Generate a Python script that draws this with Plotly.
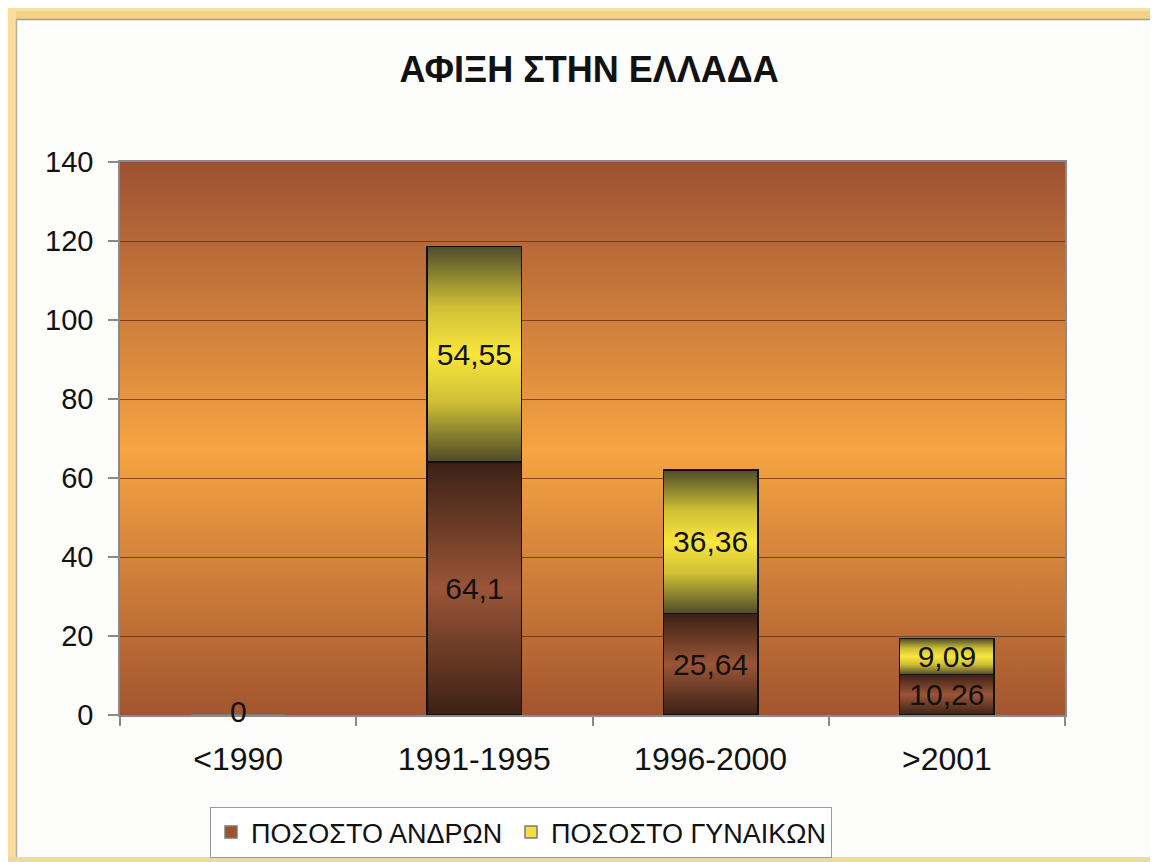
import base64
import plotly.graph_objects as go

# ---------------- data ----------------
categories = ["<1990", "1991-1995", "1996-2000", ">2001"]
men_pct = [0, 64.1, 25.64, 10.26]
women_pct = [0, 54.55, 36.36, 9.09]
series_names = ["ΠΟΣΟΣΤΟ ΑΝΔΡΩΝ", "ΠΟΣΟΣΤΟ ΓΥΝΑΙΚΩΝ"]
title_text = "ΑΦΙΞΗ ΣΤΗΝ ΕΛΛΑΔΑ"
y_ticks = [0, 20, 40, 60, 80, 100, 120, 140]

# ---------------- style ----------------
FONT = "Liberation Sans, Arial, sans-serif"
BAR_W = 0.4
OFF = 8                      # page body margin
W, H = 1158 - OFF, 862 - OFF
ML, MT = 120 - OFF, 162 - OFF
PW, PH = 945, 553
MR = W - ML - PW
MB = H - MT - PH

men_swatch = "#A0522D"
women_swatch = "#F0E040"
men_scale = [[0, "#3C2116"], [0.5, "#9A5536"], [1, "#3C2116"]]
women_scale = [[0, "#4E4B2A"], [0.28, "#CFC036"], [0.5, "#F8E63C"],
               [0.72, "#CFC036"], [1, "#4E4B2A"]]


def fmt(v):
    return f"{v:g}".replace(".", ",")


def pxx(px):
    """page x pixel -> paper x"""
    return (px - OFF - ML) / PW


def pxy(py):
    """page y pixel -> paper y"""
    return (MT + PH - (py - OFF)) / PH


fig = go.Figure()

# gradient fills of the stacked segments (drawn under the bar outlines)
xs = list(range(len(categories)))
for vals, bases, scale in [
    (men_pct, [0] * len(men_pct), men_scale),
    (women_pct, men_pct, women_scale),
]:
    for i, (v, b) in enumerate(zip(vals, bases)):
        if v <= 0:
            continue
        x0, x1 = xs[i] - BAR_W / 2, xs[i] + BAR_W / 2
        fig.add_trace(go.Scatter(
            x=[x0, x1, x1, x0, x0], y=[b, b, b + v, b + v, b],
            mode="lines", line=dict(width=0), fill="toself",
            fillgradient=dict(type="vertical", colorscale=scale,
                              start=b, stop=b + v),
            hoverinfo="skip", showlegend=False, xaxis="x", yaxis="y",
        ))

# bars (outline + labels) on an overlaying x axis so they sit above the fills
men_colors = [men_swatch] + ["rgba(0,0,0,0)"] * (len(men_pct) - 1)
women_colors = [women_swatch] + ["rgba(0,0,0,0)"] * (len(women_pct) - 1)
men_lines = ["#7A7A7A" if v == 0 else "#111111" for v in men_pct]
women_lines = ["#7A7A7A" if v == 0 else "#111111" for v in women_pct]
men_text = [fmt(v) if v else "" for v in men_pct]
women_text = [fmt(v) if v else "" for v in women_pct]

for vals, name, cols, lcols, txt, lw in [
    (men_pct, series_names[0], men_colors, men_lines, men_text, 255),
    (women_pct, series_names[1], women_colors, women_lines, women_text, None),
]:
    fig.add_trace(go.Bar(
        x=xs, y=vals, width=BAR_W, name=name, legendwidth=lw,
        marker=dict(color=cols, line=dict(color=lcols, width=1.5)),
        text=txt, textposition="inside", insidetextanchor="middle",
        textangle=0, constraintext="none",
        textfont=dict(family=FONT, size=30, color="#111111"),
        xaxis="x2", yaxis="y",
    ))

# label for categories whose stacked total is zero
annotations = []
for i, (m, w) in enumerate(zip(men_pct, women_pct)):
    if m + w == 0:
        annotations.append(dict(
            x=xs[i], y=m + w, xref="x2", yref="y", text=fmt(m + w),
            showarrow=False, yanchor="middle", yshift=4,
            font=dict(family=FONT, size=30, color="#111111")))

# plot-area background gradient (decorative)
svg = ('<svg xmlns="http://www.w3.org/2000/svg" width="100" height="100" '
       'preserveAspectRatio="none"><defs><linearGradient id="g" x1="0" y1="0" '
       'x2="0" y2="1"><stop offset="0" stop-color="#9D5132"/>'
       '<stop offset="0.52" stop-color="#F7A443"/>'
       '<stop offset="1" stop-color="#A2552F"/></linearGradient></defs>'
       '<rect width="100" height="100" fill="url(#g)"/></svg>')
src = "data:image/svg+xml;base64," + base64.b64encode(svg.encode()).decode()

shapes = [
    # outer frame bands
    dict(type="rect", xref="paper", yref="paper", x0=pxx(0), x1=pxx(1200),
         y0=pxy(0), y1=pxy(11), fillcolor="#F9E2A8", line_width=0),
    dict(type="rect", xref="paper", yref="paper", x0=pxx(0), x1=pxx(1200),
         y0=pxy(11), y1=pxy(19), fillcolor="#F5D283", line_width=0),
    dict(type="rect", xref="paper", yref="paper", x0=pxx(0), x1=pxx(16),
         y0=pxy(0), y1=pxy(900), fillcolor="#F8DE9A", line_width=0),
    dict(type="rect", xref="paper", yref="paper", x0=pxx(0), x1=pxx(1200),
         y0=pxy(857), y1=pxy(900), fillcolor="#EFD9A2", line_width=0),
    dict(type="line", xref="paper", yref="paper", x0=pxx(16), x1=pxx(1200),
         y0=pxy(19.5), y1=pxy(19.5), line=dict(color="#A69C8A", width=1.5)),
    dict(type="line", xref="paper", yref="paper", x0=pxx(16.5), x1=pxx(16.5),
         y0=pxy(19), y1=pxy(857), line=dict(color="#B8AE9A", width=1.5)),
]

fig.update_layout(
    width=W, height=H,
    margin=dict(l=ML, r=MR, t=MT, b=MB, autoexpand=False),
    paper_bgcolor="#FDFDFB", plot_bgcolor="#F0A040",
    barmode="stack", bargap=0.6,
    font=dict(family=FONT, color="#111111"),
    title=dict(text=title_text, x=(589 - OFF) / W, xanchor="center",
               y=1 - (69 - OFF) / H, yanchor="middle",
               font=dict(family=FONT, size=36, weight="bold", color="#111111")),
    showlegend=True,
    legend=dict(orientation="h", traceorder="normal",
                x=pxx(210), xanchor="left", y=pxy(807), yanchor="top",
                bgcolor="#FFFFFF", bordercolor="#9A9A9A", borderwidth=1,
                font=dict(family=FONT, size=27, color="#111111"),
                itemwidth=30),
    xaxis=dict(type="linear", range=[-0.5, len(categories) - 0.5],
               tickvals=[i - 0.5 for i in range(len(categories) + 1)],
               showticklabels=False, ticks="outside", ticklen=9,
               tickcolor="#8A8A8A", tickwidth=1.5, showgrid=False,
               zeroline=False, showline=True, linecolor="#8A8A8A",
               linewidth=1.5, mirror=True, fixedrange=True),
    xaxis2=dict(type="linear", overlaying="x", matches="x", anchor="y",
                side="bottom", tickvals=xs, ticktext=categories, ticks="",
                showgrid=False, zeroline=False, showline=False,
                ticklabelstandoff=22,
                tickfont=dict(family=FONT, size=32, color="#111111")),
    yaxis=dict(range=[0, 140], tickvals=y_ticks, ticks="outside", ticklen=10,
               tickcolor="#8A8A8A", tickwidth=1.5, showgrid=True,
               gridcolor="rgba(95,45,20,0.75)", gridwidth=1, zeroline=False,
               showline=True, linecolor="#8A8A8A", linewidth=1.5, mirror=True,
               ticklabelstandoff=9,
               tickfont=dict(family=FONT, size=29, color="#111111")),
    images=[dict(source=src, xref="paper", yref="paper", x=0, y=1, sizex=1,
                 sizey=1, xanchor="left", yanchor="top", sizing="stretch",
                 layer="below")],
    shapes=shapes,
    annotations=annotations,
)

fig.write_html("out.html")
